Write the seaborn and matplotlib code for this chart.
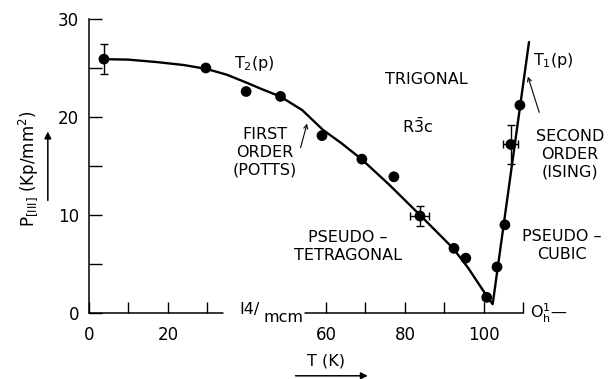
import seaborn as sns
import matplotlib.pyplot as plt
import pandas as pd

sns.set_style("ticks")
plt.rcParams['font.family'] = ['DejaVu Sans']
plt.rcParams['text.color'] = 'black'
plt.rcParams['xtick.color'] = 'black'
plt.rcParams['ytick.color'] = 'black'
plt.rcParams['axes.edgecolor'] = 'black'

# measured points, T (K) and P (Kp/mm^2)
T_pts = [3.8, 29.6, 39.8, 48.5, 59.0, 69.1, 77.2, 83.8, 92.4, 95.4, 100.7, 103.3, 105.3, 106.8, 109.1]
P_pts = [25.9, 25.0, 22.6, 22.1, 18.1, 15.7, 13.9, 9.9, 6.6, 5.6, 1.6, 4.7, 9.0, 17.2, 21.2]

# points with error bars
T_err = [3.8, 83.8, 106.8]
P_err = [25.9, 9.9, 17.2]
T_xerr = [0, 2.4, 1.9]
P_yerr = [1.5, 1.0, 1.95]

# phase boundary
T_line = [3.8, 10, 17.2, 24, 29.8, 35, 39.9, 44, 48.4, 54, 59.2, 64, 69.0, 76, 83.8, 88, 92.2, 96, 99.7, 102.2, 111.4]
P_line = [25.9, 25.85, 25.6, 25.3, 24.9, 24.3, 23.5, 22.8, 22.1, 20.7, 18.7, 17.3, 15.7, 13.1, 10.0, 8.3, 6.6, 4.6, 2.35, 0.9, 27.65]

x_tick_pos = [0, 10, 20, 30, 60, 70, 80, 90, 100, 110]
x_tick_lab = ['0', '', '20', '', '60', '', '80', '', '100', '']
y_tick_pos = [0, 5, 10, 15, 20, 25, 30]
y_tick_lab = ['0', '', '10', '', '20', '', '30']

fig = plt.figure(figsize=(6.09, 3.79), dpi=100)
ax = fig.add_axes([0.146, 0.174, 0.746, 0.776])

line_df = pd.DataFrame({'T': T_line, 'P': P_line})
pts_df = pd.DataFrame({'T': T_pts, 'P': P_pts})
sns.lineplot(data=line_df, x='T', y='P', sort=False, color='black', lw=1.7, ax=ax, clip_on=False)
sns.scatterplot(data=pts_df, x='T', y='P', color='black', s=60, edgecolor='none', ax=ax, zorder=3, clip_on=False)
ax.errorbar(T_err, P_err, xerr=T_xerr, yerr=P_yerr, fmt='none', ecolor='black',
            elinewidth=1.0, capsize=3, capthick=1.0, clip_on=False)

ax.set_xlim(0, 115)
ax.set_ylim(0, 30)
ax.set_xlabel('')
ax.set_ylabel('')
for s in ['top', 'right', 'bottom']:
    ax.spines[s].set_visible(False)
ax.spines['left'].set_linewidth(1.1)
# broken T axis around the I4/mcm label
ax.plot([0, 33.9], [0, 0], color='black', lw=1.1, clip_on=False)
ax.plot([54.7, 110], [0, 0], color='black', lw=1.1, clip_on=False)

ax.set_xticks(x_tick_pos)
ax.set_xticklabels(x_tick_lab)
ax.set_yticks(y_tick_pos)
ax.set_yticklabels(y_tick_lab)
ax.tick_params(axis='x', direction='in', length=8, width=1, pad=9, labelsize=12)
ax.tick_params(axis='y', direction='in', length=9, width=1, pad=7, labelsize=12)

fs = 11.5
ax.text(-15.6, 14.7, r'P$_{[\mathregular{III}]}$ (Kp/mm$^2$)', rotation=90, ha='center', va='center', fontsize=12)
ax.annotate('', xy=(-10.4, 18.8), xytext=(-10.4, 11.2), xycoords='data',
            arrowprops=dict(arrowstyle='-|>', color='black', lw=1.1), annotation_clip=False)
ax.text(60, -4.9, 'T (K)', ha='center', va='center', fontsize=fs)
ax.annotate('', xy=(71.3, -6.4), xytext=(51.6, -6.4),
            arrowprops=dict(arrowstyle='-|>', color='black', lw=1.1), annotation_clip=False)

ax.text(40.6, 0.4, 'I4/', ha='center', va='center', fontsize=fs)
ax.text(49.3, -0.5, 'mcm', ha='center', va='center', fontsize=fs)
ax.text(111.6, 0, r'O$_\mathregular{h}^\mathregular{1}$—', ha='left', va='center', fontsize=fs)

ax.text(41.9, 25.5, r'T$_2$(p)', ha='center', va='center', fontsize=fs)
ax.text(117.6, 25.8, r'T$_1$(p)', ha='center', va='center', fontsize=fs)
ax.text(85.3, 23.8, 'TRIGONAL', ha='center', va='center', fontsize=fs)
ax.text(83.2, 19.0, r'R$\bar{\mathregular{3}}$c', ha='center', va='center', fontsize=fs)
ax.text(44.6, 16.4, 'FIRST\nORDER\n(POTTS)', ha='center', va='center', fontsize=fs, linespacing=1.25)
ax.annotate('', xy=(55.4, 19.6), xytext=(53.4, 16.6),
            arrowprops=dict(arrowstyle='->', color='black', lw=0.8, mutation_scale=7))
ax.text(121.8, 16.2, 'SECOND\nORDER\n(ISING)', ha='center', va='center', fontsize=fs, linespacing=1.25)
ax.annotate('', xy=(110.9, 24.4), xytext=(114.2, 20.2),
            arrowprops=dict(arrowstyle='->', color='black', lw=0.8, mutation_scale=7), annotation_clip=False)
ax.text(65.6, 6.8, 'PSEUDO –\nTETRAGONAL', ha='center', va='center', fontsize=fs, linespacing=1.25)
ax.text(119.7, 6.9, 'PSEUDO –\nCUBIC', ha='center', va='center', fontsize=fs, linespacing=1.25)

fig.savefig('out.png', dpi=100)
